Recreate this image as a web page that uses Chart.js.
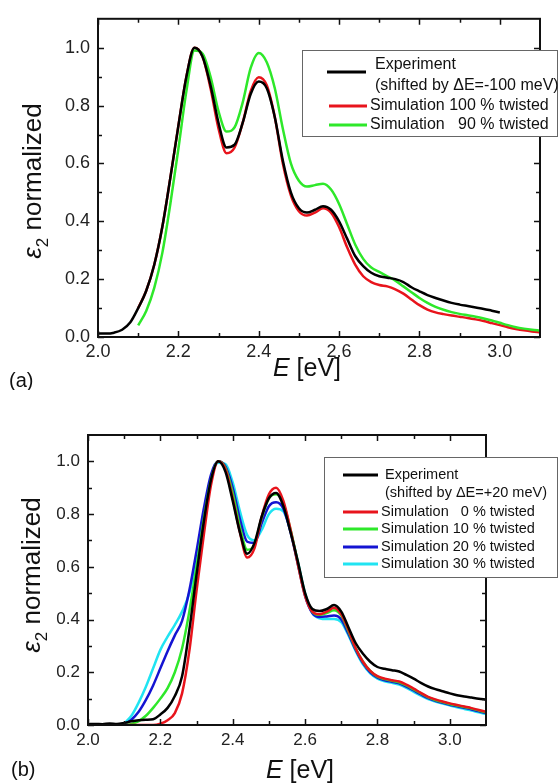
<!DOCTYPE html>
<html>
<head>
<meta charset="utf-8">
<script src="https://cdn.jsdelivr.net/npm/chart.js@4.4.1/dist/chart.umd.min.js"></script>
<style>
  html, body { margin: 0; padding: 0; background: #fff; }
  .panel { position: absolute; left: 0; width: 558px; }
  #panelA { top: 0; height: 390px; }
  #panelB { top: 390px; height: 393px; }
</style>
</head>
<body>
<div class="panel" id="panelA"><canvas id="chartA" width="558" height="390"></canvas></div>
<div class="panel" id="panelB"><canvas id="chartB" width="558" height="393"></canvas></div>
<script>
const FONT = '"Liberation Sans", Arial, sans-serif';

// photon energy grid (eV), shared by both panels
const energy = [
  2.00, 2.02, 2.04, 2.06, 2.08, 2.10, 2.12, 2.14, 2.16, 2.18,
  2.20, 2.22, 2.24, 2.26, 2.28, 2.30, 2.32, 2.34, 2.36, 2.38,
  2.40, 2.42, 2.44, 2.46, 2.48, 2.50, 2.52, 2.54, 2.56, 2.58,
  2.60, 2.62, 2.64, 2.66, 2.68, 2.70, 2.72, 2.74, 2.76, 2.78,
  2.80, 2.82, 2.84, 2.86, 2.88, 2.90, 2.92, 2.94, 2.96, 2.98,
  3.00, 3.02, 3.04, 3.06, 3.08, 3.10
];
const xTicks = [2.0, 2.2, 2.4, 2.6, 2.8, 3.0];
const xMinorTicks = [2.1, 2.3, 2.5, 2.7, 2.9];
const yTicks = [0.0, 0.2, 0.4, 0.6, 0.8, 1.0];
const yMinorTicks = [0.1, 0.3, 0.5, 0.7, 0.9];

// panel (a)
const expA = [
  0.012, 0.012, 0.015, 0.025, 0.05, 0.10, 0.16, 0.25, 0.38, 0.55,
  0.73, 0.90, 1.00, 0.97, 0.87, 0.74, 0.655, 0.665, 0.74, 0.84,
  0.883, 0.86, 0.76, 0.61, 0.50, 0.445, 0.43, 0.44, 0.452, 0.44,
  0.40, 0.34, 0.28, 0.245, 0.222, 0.21, 0.205, 0.20, 0.19, 0.172,
  0.158, 0.145, 0.135, 0.126, 0.118, 0.112, 0.107, 0.102, 0.097, 0.091,
  0.085, null, null, null, null, null
];
const sim100A = [
  null, null, null, null, null, 0.10, 0.16, 0.25, 0.38, 0.55,
  0.73, 0.90, 1.00, 0.97, 0.86, 0.72, 0.635, 0.655, 0.74, 0.85,
  0.898, 0.87, 0.76, 0.60, 0.49, 0.435, 0.42, 0.43, 0.445, 0.43,
  0.38, 0.31, 0.25, 0.21, 0.19, 0.18, 0.175, 0.165, 0.15, 0.13,
  0.11, 0.095, 0.085, 0.079, 0.074, 0.07, 0.066, 0.061, 0.055, 0.048,
  0.041, 0.034, 0.028, 0.023, 0.019, 0.016
];
const sim90A = [
  null, null, null, null, null, 0.04, 0.09, 0.17, 0.29, 0.46,
  0.65, 0.85, 0.99, 0.98, 0.90, 0.78, 0.71, 0.725, 0.81, 0.93,
  0.982, 0.95, 0.86, 0.72, 0.60, 0.54, 0.52, 0.525, 0.53, 0.51,
  0.46, 0.39, 0.32, 0.27, 0.24, 0.225, 0.21, 0.195, 0.175, 0.155,
  0.135, 0.118, 0.104, 0.094, 0.086, 0.08, 0.075, 0.07, 0.064, 0.057,
  0.049, 0.041, 0.034, 0.029, 0.025, 0.022
];

// panel (b)
const expB = [
  0.003, 0.004, 0.003, 0.006, 0.004, 0.008, 0.014, 0.018, 0.02, 0.022,
  0.04, 0.065, 0.11, 0.185, 0.36, 0.57, 0.77, 0.93, 1.00, 0.96,
  0.85, 0.73, 0.65, 0.69, 0.79, 0.86, 0.88, 0.83, 0.73, 0.62,
  0.50, 0.44, 0.432, 0.44, 0.455, 0.43, 0.37, 0.31, 0.27, 0.24,
  0.22, 0.213, 0.208, 0.203, 0.19, 0.176, 0.16, 0.146, 0.136, 0.128,
  0.12, 0.113, 0.108, 0.104, 0.10, 0.097
];
const sim0B = [
  null, null, null, null, null, 0, 0, 0, 0, 0,
  0.005, 0.018, 0.045, 0.12, 0.28, 0.51, 0.72, 0.91, 1.00, 0.97,
  0.86, 0.73, 0.635, 0.67, 0.79, 0.875, 0.90, 0.85, 0.74, 0.61,
  0.49, 0.43, 0.42, 0.43, 0.445, 0.42, 0.36, 0.29, 0.24, 0.205,
  0.185, 0.176, 0.17, 0.165, 0.153, 0.138, 0.122, 0.107, 0.097, 0.089,
  0.082, 0.076, 0.07, 0.064, 0.057, 0.05
];
const sim10B = [
  null, null, null, null, null, 0, 0.004, 0.015, 0.035, 0.065,
  0.10, 0.14, 0.20, 0.29, 0.43, 0.60, 0.78, 0.93, 1.00, 0.975,
  0.88, 0.75, 0.665, 0.685, 0.785, 0.86, 0.875, 0.84, 0.74, 0.615,
  0.495, 0.43, 0.418, 0.425, 0.435, 0.415, 0.355, 0.29, 0.24, 0.205,
  0.183, 0.174, 0.168, 0.162, 0.15, 0.135, 0.12, 0.105, 0.095, 0.087,
  0.08, 0.074, 0.068, 0.062, 0.055, 0.048
];
const sim20B = [
  null, null, null, null, null, 0.003, 0.02, 0.05, 0.095, 0.15,
  0.215, 0.28, 0.34, 0.395, 0.51, 0.66, 0.82, 0.95, 1.00, 0.98,
  0.90, 0.78, 0.695, 0.69, 0.765, 0.83, 0.845, 0.82, 0.73, 0.61,
  0.49, 0.425, 0.41, 0.412, 0.415, 0.40, 0.345, 0.285, 0.235, 0.20,
  0.18, 0.17, 0.164, 0.158, 0.146, 0.131, 0.116, 0.102, 0.092, 0.084,
  0.077, 0.071, 0.065, 0.059, 0.052, 0.045
];
const sim30B = [
  null, null, null, null, null, 0.005, 0.035, 0.085, 0.145, 0.215,
  0.285, 0.335, 0.38, 0.43, 0.50, 0.63, 0.80, 0.94, 0.995, 0.99,
  0.92, 0.81, 0.72, 0.70, 0.74, 0.80, 0.82, 0.81, 0.735, 0.62,
  0.50, 0.425, 0.405, 0.402, 0.402, 0.39, 0.34, 0.28, 0.23, 0.196,
  0.176, 0.166, 0.16, 0.153, 0.141, 0.126, 0.111, 0.098, 0.089, 0.081,
  0.074, 0.067, 0.061, 0.055, 0.048, 0.042
];

const COLORS = {
  exp: "#000000",
  red: "#e8141c",
  green: "#2ee82a",
  blue: "#1414d2",
  cyan: "#20e4f2",
};

function points(values) {
  return energy
    .map((e, i) => ({ x: e, y: values[i] }))
    .filter((p) => p.y !== null);
}

function line(values, color, order) {
  return {
    data: points(values),
    borderColor: color,
    borderWidth: 2.5,
    pointRadius: 0,
    cubicInterpolationMode: "monotone",
    fill: false,
    order,
  };
}

// frame + inward ticks on all four sides
function drawFrame(chart) {
  const { ctx, chartArea: a, scales: { x, y } } = chart;
  ctx.save();
  ctx.strokeStyle = "#111";
  ctx.lineWidth = 1.5;
  ctx.beginPath();
  const xMark = (list, len) => list.forEach((v) => {
    const px = Math.round(x.getPixelForValue(v)) + 0.5;
    ctx.moveTo(px, a.bottom); ctx.lineTo(px, a.bottom - len);
    ctx.moveTo(px, a.top); ctx.lineTo(px, a.top + len);
  });
  const yMark = (list, len) => list.forEach((v) => {
    const py = Math.round(y.getPixelForValue(v)) + 0.5;
    ctx.moveTo(a.left, py); ctx.lineTo(a.left + len, py);
    ctx.moveTo(a.right, py); ctx.lineTo(a.right - len, py);
  });
  xMark(xTicks, 6);
  xMark(xMinorTicks, 4);
  yMark(yTicks, 6);
  yMark(yMinorTicks, 4);
  ctx.stroke();
  ctx.lineWidth = 2;
  ctx.strokeRect(a.left, a.top, a.right - a.left, a.bottom - a.top);
  ctx.restore();
}

function drawYTitle(ctx, cx, cy, size) {
  const italic = `italic ${size}px ${FONT}`;
  const sub = `${Math.round(size * 0.66)}px ${FONT}`;
  const plain = `${size}px ${FONT}`;
  ctx.save();
  ctx.translate(cx, cy);
  ctx.rotate(-Math.PI / 2);
  ctx.fillStyle = "#111";
  ctx.textBaseline = "alphabetic";
  ctx.font = italic; const w1 = ctx.measureText("ε").width;
  ctx.font = sub; const w2 = ctx.measureText("2").width;
  ctx.font = plain; const w3 = ctx.measureText(" normalized").width;
  let x0 = -(w1 + w2 + w3) / 2;
  ctx.font = italic; ctx.fillText("ε", x0, 0); x0 += w1;
  ctx.font = sub; ctx.fillText("2", x0, size * 0.28); x0 += w2;
  ctx.font = plain; ctx.fillText(" normalized", x0, 0);
  ctx.restore();
}

function drawXTitle(ctx, cx, baseline, size) {
  const italic = `italic ${size}px ${FONT}`;
  const plain = `${size}px ${FONT}`;
  ctx.save();
  ctx.fillStyle = "#111";
  ctx.textBaseline = "alphabetic";
  ctx.font = italic; const w1 = ctx.measureText("E").width;
  ctx.font = plain; const w2 = ctx.measureText(" [eV]").width;
  let x0 = cx - (w1 + w2) / 2;
  ctx.font = italic; ctx.fillText("E", x0, baseline); x0 += w1;
  ctx.font = plain; ctx.fillText(" [eV]", x0, baseline);
  ctx.restore();
}

function drawLegend(ctx, lg) {
  ctx.save();
  ctx.fillStyle = "#fff";
  ctx.fillRect(lg.box[0], lg.box[1], lg.box[2], lg.box[3]);
  ctx.strokeStyle = "#666";
  ctx.lineWidth = 1;
  ctx.strokeRect(lg.box[0] + 0.5, lg.box[1] + 0.5, lg.box[2], lg.box[3]);
  ctx.font = `${lg.size}px ${FONT}`;
  ctx.textBaseline = "middle";
  ctx.fillStyle = "#111";
  lg.rows.forEach((r) => {
    if (r.color) {
      ctx.strokeStyle = r.color;
      ctx.lineWidth = 3;
      ctx.beginPath();
      ctx.moveTo(r.line[0], r.line[2]);
      ctx.lineTo(r.line[1], r.line[2]);
      ctx.stroke();
    }
    ctx.fillText(r.text, r.x, r.y);
  });
  ctx.restore();
}

const decorPlugin = {
  id: "decor",
  afterDatasetsDraw(chart) {
    drawFrame(chart);
  },
  afterDraw(chart, args, opts) {
    const { ctx } = chart;
    drawLegend(ctx, opts.legend);
    drawYTitle(ctx, opts.yTitle[0], opts.yTitle[1], 26);
    drawXTitle(ctx, opts.xTitle[0], opts.xTitle[1], 25);
    ctx.save();
    ctx.font = `20px ${FONT}`;
    ctx.fillStyle = "#111";
    ctx.fillText(opts.tag[0], opts.tag[1], opts.tag[2]);
    ctx.restore();
  },
};

function makeChart(canvas, datasets, geo, decor) {
  return new Chart(canvas, {
    type: "line",
    data: { datasets },
    plugins: [decorPlugin],
    options: {
      responsive: false,
      animation: false,
      events: [],
      layout: { padding: { left: 0, top: geo.top, right: geo.right, bottom: 0 } },
      scales: {
        x: {
          type: "linear",
          min: 2.0,
          max: 3.1,
          grid: { display: false, drawTicks: false },
          border: { display: false },
          afterFit(scale) { scale.height = geo.xHeight; },
          afterBuildTicks(scale) { scale.ticks = xTicks.map((v) => ({ value: v })); },
          ticks: {
            padding: geo.xPad,
            color: "#222",
            font: { family: FONT, size: geo.tickSize },
            callback: (v) => v.toFixed(1),
          },
        },
        y: {
          type: "linear",
          min: 0,
          max: 1.1,
          grid: { display: false, drawTicks: false },
          border: { display: false },
          afterFit(scale) { scale.width = geo.yWidth; },
          afterBuildTicks(scale) { scale.ticks = yTicks.map((v) => ({ value: v })); },
          ticks: {
            padding: geo.yPad,
            color: "#222",
            font: { family: FONT, size: geo.tickSize },
            callback: (v) => v.toFixed(1),
          },
        },
      },
      plugins: {
        legend: { display: false },
        tooltip: { enabled: false },
        decor,
      },
    },
  });
}

makeChart(
  document.getElementById("chartA"),
  [
    line(expA, COLORS.exp, 0),
    line(sim90A, COLORS.green, 1),
    line(sim100A, COLORS.red, 2),
  ],
  { top: 14, right: 18, xHeight: 53, yWidth: 98, xPad: 4, yPad: 8, tickSize: 18 },
  {
    yTitle: [41, 181],
    xTitle: [307, 376],
    tag: ["(a)", 9, 387],
    legend: {
      box: [302, 50, 255, 86],
      size: 16,
      rows: [
        { text: "Experiment", x: 375, y: 65, color: COLORS.exp, line: [327, 366, 72] },
        { text: "(shifted by \u0394E=-100 meV)", x: 375, y: 86 },
        { text: "Simulation 100 % twisted", x: 370, y: 106, color: COLORS.red, line: [329, 367, 106] },
        { text: "Simulation   90 % twisted", x: 370, y: 125, color: COLORS.green, line: [329, 367, 125] },
      ],
    },
  }
);

makeChart(
  document.getElementById("chartB"),
  [
    line(expB, COLORS.exp, 0),
    line(sim0B, COLORS.red, 1),
    line(sim10B, COLORS.green, 2),
    line(sim20B, COLORS.blue, 3),
    line(sim30B, COLORS.cyan, 4),
  ],
  { top: 45, right: 72, xHeight: 58, yWidth: 88, xPad: 5, yPad: 8, tickSize: 17 },
  {
    yTitle: [40, 185],
    xTitle: [300, 388],
    tag: ["(b)", 11, 386],
    legend: {
      box: [324, 67, 233, 120],
      size: 14.5,
      rows: [
        { text: "Experiment", x: 385, y: 85, color: COLORS.exp, line: [343, 378, 85] },
        { text: "(shifted by \u0394E=+20 meV)", x: 385, y: 103 },
        { text: "Simulation   0 % twisted", x: 381, y: 122, color: COLORS.red, line: [343, 378, 122] },
        { text: "Simulation 10 % twisted", x: 381, y: 139, color: COLORS.green, line: [343, 378, 139] },
        { text: "Simulation 20 % twisted", x: 381, y: 157, color: COLORS.blue, line: [343, 378, 157] },
        { text: "Simulation 30 % twisted", x: 381, y: 174, color: COLORS.cyan, line: [343, 378, 174] },
      ],
    },
  }
);
</script>
</body>
</html>
